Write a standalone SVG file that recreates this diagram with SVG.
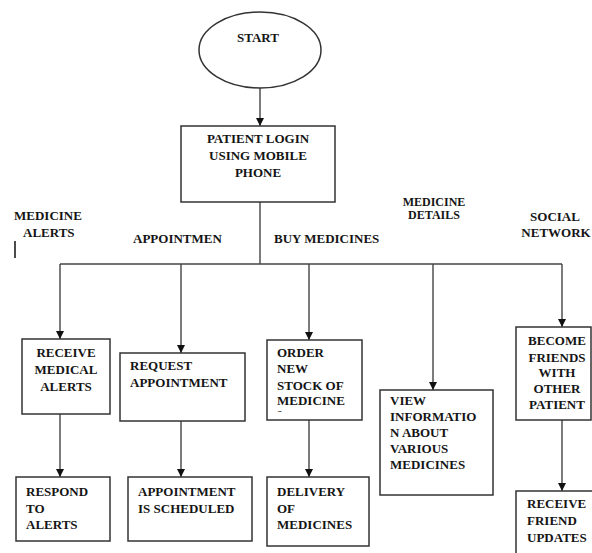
<svg xmlns="http://www.w3.org/2000/svg" width="592" height="553" viewBox="0 0 592 553">
  <style>
    .box { fill: #fff; stroke: #333; stroke-width: 1.5; }
    .ln { fill: none; stroke: #444; stroke-width: 1.4; }
    text { font-family: 'Liberation Serif', 'DejaVu Serif', serif; font-weight: bold; font-size: 13px; fill: #151515; }
    .s { font-size: 12px; }
    .c { text-anchor: middle; }
  </style>
  <defs>
    <marker id="arr" viewBox="0 0 8 8" refX="8" refY="4" markerWidth="8" markerHeight="8" markerUnits="userSpaceOnUse" orient="auto">
      <path d="M0,0 L8,4 L0,8 Z" fill="#111"/>
    </marker>
    <clipPath id="orderClip">
      <rect x="267" y="340" width="95" height="72"/>
    </clipPath>
  </defs>

  <rect width="592" height="553" fill="#fff"/>

  <!-- connectors -->
  <g id="connectors">
    <line class="ln" x1="260" y1="88" x2="260" y2="126" marker-end="url(#arr)"/>
    <line class="ln" x1="260" y1="202" x2="260" y2="264"/>
    <polyline class="ln" points="60,264 562,264"/>
    <line class="ln" x1="60" y1="264" x2="60" y2="339" marker-end="url(#arr)"/>
    <line class="ln" x1="181" y1="264" x2="181" y2="353" marker-end="url(#arr)"/>
    <line class="ln" x1="309" y1="264" x2="309" y2="340" marker-end="url(#arr)"/>
    <line class="ln" x1="433" y1="264" x2="433" y2="390" marker-end="url(#arr)"/>
    <line class="ln" x1="562" y1="264" x2="562" y2="327" marker-end="url(#arr)"/>
    <line class="ln" x1="60" y1="414" x2="60" y2="477" marker-end="url(#arr)"/>
    <line class="ln" x1="181" y1="415" x2="181" y2="477" marker-end="url(#arr)"/>
    <line class="ln" x1="309" y1="415" x2="309" y2="477" marker-end="url(#arr)"/>
    <line class="ln" x1="562" y1="420" x2="562" y2="491" marker-end="url(#arr)"/>
  </g>

  <!-- branch labels -->
  <g id="labels">
    <text x="14" y="220">MEDICINE</text>
    <text x="23" y="237">ALERTS</text>
    <line x1="15" y1="241" x2="15" y2="258" stroke="#111" stroke-width="1.5"/>
    <text x="133" y="243">APPOINTMEN</text>
    <text x="274" y="243">BUY MEDICINES</text>
    <text class="s c" x="434" y="206">MEDICINE</text>
    <text class="s c" x="434" y="219">DETAILS</text>
    <text class="c" x="555" y="221">SOCIAL</text>
    <text class="c" x="556" y="237">NETWORK</text>
  </g>

  <g id="start">
    <ellipse class="box" cx="260" cy="50" rx="61" ry="38"/>
    <text class="c" x="258" y="42">START</text>
  </g>

  <g id="login">
    <rect class="box" x="181" y="126" width="154" height="76"/>
    <text class="c" x="258" y="143">PATIENT LOGIN</text>
    <text class="c" x="258" y="160">USING MOBILE</text>
    <text class="c" x="258" y="177">PHONE</text>
  </g>

  <g id="receive-alerts">
    <rect class="box" x="22" y="339" width="88" height="75"/>
    <text class="c" x="66" y="357">RECEIVE</text>
    <text class="c" x="66" y="374">MEDICAL</text>
    <text class="c" x="66" y="391">ALERTS</text>
  </g>

  <g id="request-appointment">
    <rect class="box" x="120" y="353" width="125" height="68"/>
    <text x="130" y="370">REQUEST</text>
    <text x="130" y="387">APPOINTMENT</text>
  </g>

  <g id="order-stock">
    <rect class="box" x="267" y="340" width="95" height="80"/>
    <g clip-path="url(#orderClip)">
      <text x="277" y="357">ORDER</text>
      <text x="277" y="373">NEW</text>
      <text x="277" y="390">STOCK OF</text>
      <text x="277" y="405">MEDICINE</text>
      <text x="277" y="417">s</text>
    </g>
  </g>

  <g id="view-info">
    <rect class="box" x="380" y="390" width="113" height="105"/>
    <text x="390" y="405">VIEW</text>
    <text x="390" y="421">INFORMATIO</text>
    <text x="390" y="437">N ABOUT</text>
    <text x="390" y="453">VARIOUS</text>
    <text x="390" y="469">MEDICINES</text>
  </g>

  <g id="become-friends">
    <rect class="box" x="516" y="327" width="75" height="93"/>
    <text class="c" x="557" y="345">BECOME</text>
    <text class="c" x="557" y="362">FRIENDS</text>
    <text class="c" x="557" y="377">WITH</text>
    <text class="c" x="557" y="393">OTHER</text>
    <text class="c" x="557" y="409">PATIENT</text>
  </g>

  <g id="respond">
    <rect class="box" x="16" y="477" width="94" height="64"/>
    <text x="26" y="496">RESPOND</text>
    <text x="26" y="513">TO</text>
    <text x="26" y="529">ALERTS</text>
  </g>

  <g id="scheduled">
    <rect class="box" x="128" y="477" width="124" height="64"/>
    <text x="138" y="496">APPOINTMENT</text>
    <text x="138" y="513">IS SCHEDULED</text>
  </g>

  <g id="delivery">
    <rect class="box" x="267" y="477" width="102" height="69"/>
    <text x="277" y="496">DELIVERY</text>
    <text x="277" y="513">OF</text>
    <text x="277" y="529">MEDICINES</text>
  </g>

  <g id="friend-updates">
    <rect class="box" x="516" y="491" width="90" height="80"/>
    <text x="527" y="508">RECEIVE</text>
    <text x="527" y="525">FRIEND</text>
    <text x="527" y="542">UPDATES</text>
  </g>
</svg>
